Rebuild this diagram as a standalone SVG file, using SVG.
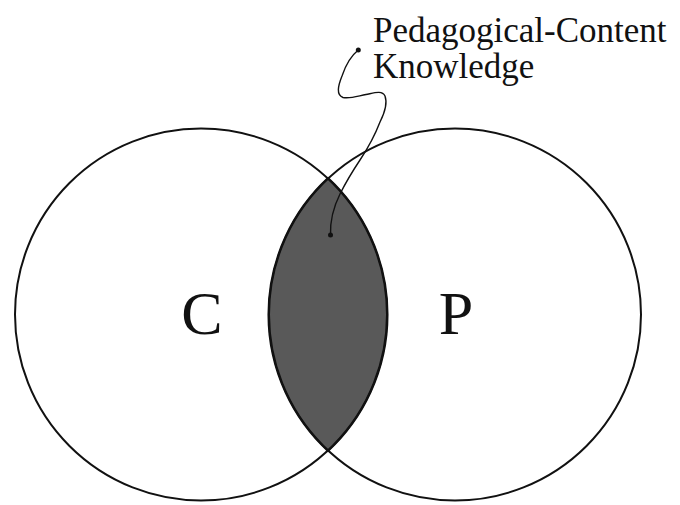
<svg xmlns="http://www.w3.org/2000/svg" width="680" height="505" viewBox="0 0 680 505">
<style>
.ring{fill:none;stroke:#111;stroke-width:2}
.lens{fill:#595959;stroke:#111;stroke-width:2}
.lbl{font-family:"Liberation Serif","Times New Roman",serif;fill:#111}
.wire{fill:none;stroke:#111;stroke-width:1.4;stroke-linecap:round}
</style>
<rect width="680" height="505" fill="#fff"/>
<g id="lens">
<path class="lens" d="M328,178.1 A186,186 0 0 1 328,450.9 A186,186 0 0 1 328,178.1 Z"/>
</g>
<g id="circleC">
<circle class="ring" cx="201" cy="314.5" r="186"/>
<text class="lbl" x="202" y="334" font-size="62" text-anchor="middle">C</text>
</g>
<g id="circleP">
<circle class="ring" cx="455" cy="314.5" r="186"/>
<text class="lbl" x="456" y="334" font-size="62" text-anchor="middle">P</text>
</g>
<g id="label">
<text class="lbl" x="373" y="42" font-size="35">Pedagogical-Content</text>
<text class="lbl" x="373" y="78" font-size="35">Knowledge</text>
</g>
<g id="connectors">
<path class="wire" d="M358.3,50 C352,55 346,64 342,76 C338,86 336,95 343,97.5 C350,99 358,96 366,94.5 C374,93 382,90 385,96 C388,104 384,114 380,122 C375,135 368,148 360,160 C352,172 346,182 340,194 C334,206 330,220 330.5,235"/>
<circle cx="358.3" cy="50" r="2.5" fill="#111"/>
<circle cx="330.5" cy="235" r="2.5" fill="#111"/>
</g>
</svg>
